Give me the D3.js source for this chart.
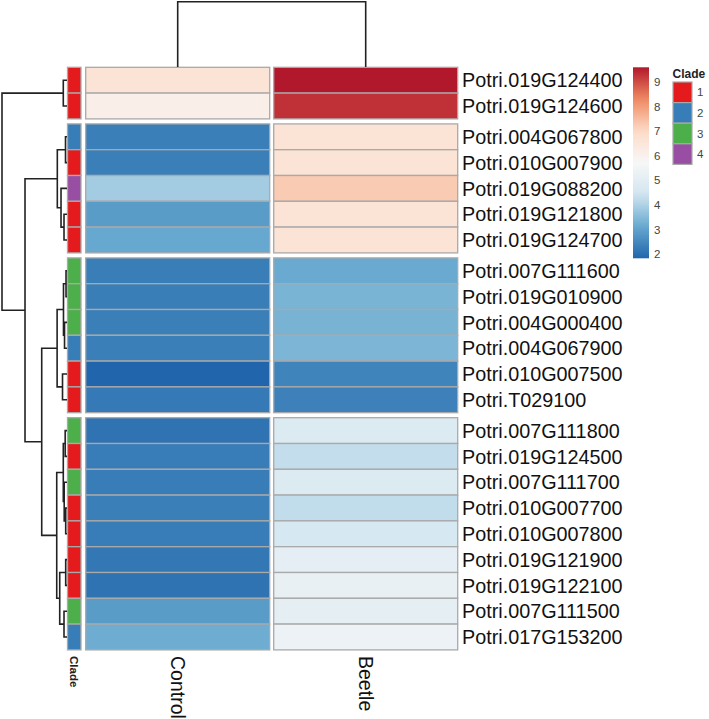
<!DOCTYPE html>
<html>
<head>
<meta charset="utf-8">
<script src="https://cdn.jsdelivr.net/npm/d3@7"></script>
<style>
  body { margin: 0; background: #fff; }
  text { font-family: "Liberation Sans", Arial, sans-serif; }
</style>
</head>
<body>
<svg id="chart" width="709" height="719"></svg>
<script>
// gene rows, top to bottom
const genes = [
  "Potri.019G124400", "Potri.019G124600",
  "Potri.004G067800", "Potri.010G007900", "Potri.019G088200", "Potri.019G121800", "Potri.019G124700",
  "Potri.007G111600", "Potri.019G010900", "Potri.004G000400", "Potri.004G067900", "Potri.010G007500", "Potri.T029100",
  "Potri.007G111800", "Potri.019G124500", "Potri.007G111700", "Potri.010G007700", "Potri.010G007800",
  "Potri.019G121900", "Potri.019G122100", "Potri.007G111500", "Potri.017G153200"
];
const clade = [1, 1, 2, 1, 4, 1, 1, 3, 3, 3, 2, 1, 1, 3, 1, 3, 1, 1, 1, 1, 3, 2];
const control = [6.64, 6.13, 2.3, 2.3, 3.85, 2.87, 3.1, 2.28, 2.28, 2.3, 2.3, 1.82, 2.2,
                 2.08, 2.25, 2.25, 2.3, 2.25, 2.15, 2.08, 2.87, 3.2];
const beetle = [9.61, 9.32, 6.64, 6.64, 7.27, 6.64, 6.64, 3.15, 3.35, 3.33, 3.38, 2.4, 2.35,
                4.8, 4.25, 4.8, 4.22, 4.6, 5.1, 5.2, 5.05, 5.35];
const samples = ["Control", "Beetle"];
const rowGroups = [2, 5, 6, 9];          // cutree groups
const cladeLevels = [1, 2, 3, 4];
const cladeColors = ["#E41A1C", "#377EB8", "#4DAF4A", "#984EA3"];
const legendTicks = [2, 3, 4, 5, 6, 7, 8, 9];
const rdbu = ["#2166AC", "#67A9CF", "#D1E5F0", "#F7F7F7", "#FDDBC7", "#EF8A62", "#B2182B"];

// row dendrogram: [height, left, right], leaves are row indexes
const rowTree = [10,
  [0.57, 0, 1],
  [6.46,
    [1.49, [0.23, 2, 3], [0.92, 4, [0.46, 5, 6]]],
    [3.89,
      [1.52, [0.54, [0.15, 7, 8], [0.38, 9, 10]], [0.69, 11, 12]],
      [1.58,
        [0.57, [0.28, 13, 14], [0.43, 15, [0.2, 16, 17]]],
        [1.12, [0.2, 18, 19], [0.46, 20, 21]]]
    ]
  ]
];
const colTree = [1, 0, 1];

const svg = d3.select("#chart");
const values = samples.map((s, j) => j == 0 ? control : beetle);

const heatTop = 67.3, rowH = 25.8, gapH = 5;
const gapBefore = [];
rowGroups.forEach((n, g) => { for (let k = 0; k < n; k++) gapBefore.push(g); });
const yIdx = d3.scaleLinear().domain([0, 1]).range([heatTop, heatTop + rowH]);
const rowY = i => yIdx(i) + gapBefore[i] * gapH;

const cellW = 184, colGap = 4, x0 = 85.7;
const colX = j => x0 + j * (cellW + colGap);

const all = control.concat(beetle);
const [vmin, vmax] = d3.extent(all);
const color = d3.scaleLinear()
  .domain(d3.range(rdbu.length).map(k => vmin + k * (vmax - vmin) / (rdbu.length - 1)))
  .range(rdbu);

const border = "#A9A9A9";

// heatmap cells
samples.forEach((s, j) => {
  svg.append("g").selectAll("rect")
    .data(values[j])
    .join("rect")
    .attr("x", colX(j))
    .attr("y", (d, i) => rowY(i))
    .attr("width", cellW)
    .attr("height", rowH)
    .attr("fill", d => color(d))
    .attr("stroke", border)
    .attr("stroke-width", 1.3);
});

// clade annotation column
const cladeColor = d3.scaleOrdinal().domain(cladeLevels).range(cladeColors);
svg.append("g").selectAll("rect")
  .data(clade)
  .join("rect")
  .attr("x", 67.5)
  .attr("y", (d, i) => rowY(i))
  .attr("width", 13.5)
  .attr("height", rowH)
  .attr("fill", d => cladeColor(d))
  .attr("stroke", border)
  .attr("stroke-width", 1.3);

// row labels
svg.append("g").selectAll("text")
  .data(genes)
  .join("text")
  .attr("x", 462)
  .attr("y", (d, i) => rowY(i) + rowH / 2)
  .attr("dy", "0.36em")
  .attr("font-size", 19.8)
  .attr("fill", "#111")
  .text(d => d);

// column labels
svg.append("g").selectAll("text")
  .data(samples)
  .join("text")
  .attr("transform", (d, j) => `translate(${colX(j) + cellW / 2},656) rotate(90)`)
  .attr("dy", "0.36em")
  .attr("font-size", 19.5)
  .attr("fill", "#111")
  .text(d => d);

svg.append("text")
  .attr("transform", "translate(74.3,656) rotate(90)")
  .attr("dy", "0.36em")
  .attr("font-size", 11.5)
  .attr("font-weight", "bold")
  .attr("fill", "#222")
  .text("Clade");

// dendrograms
const treeG = svg.append("g").attr("fill", "none").attr("stroke", "#222").attr("stroke-width", 1.6);

const hx = d3.scaleLinear().domain([0, 10]).range([67, 2]);
function drawRow(node) {
  if (typeof node === "number") return { pos: rowY(node) + rowH / 2, h: 0 };
  const a = drawRow(node[1]), b = drawRow(node[2]);
  const x = hx(node[0]);
  treeG.append("path")
    .attr("d", `M${hx(a.h)},${a.pos}H${x}V${b.pos}H${hx(b.h)}`);
  return { pos: (a.pos + b.pos) / 2, h: node[0] };
}
drawRow(rowTree);

const hy = d3.scaleLinear().domain([0, 1]).range([67, 1.7]);
function drawCol(node) {
  if (typeof node === "number") return { pos: colX(node) + cellW / 2, h: 0 };
  const a = drawCol(node[1]), b = drawCol(node[2]);
  const y = hy(node[0]);
  treeG.append("path")
    .attr("d", `M${a.pos},${hy(a.h)}V${y}H${b.pos}V${hy(b.h)}`);
  return { pos: (a.pos + b.pos) / 2, h: node[0] };
}
drawCol(colTree);

// colour legend
const barY = d3.scaleLinear().domain([vmin, vmax]).range([258.3, 67.3]);
const grad = svg.append("defs").append("linearGradient")
  .attr("id", "grad").attr("x1", 0).attr("y1", 1).attr("x2", 0).attr("y2", 0);
grad.selectAll("stop")
  .data(d3.range(0, 1.0001, 0.05))
  .join("stop")
  .attr("offset", d => d)
  .attr("stop-color", d => color(vmin + d * (vmax - vmin)));
svg.append("rect")
  .attr("x", 633).attr("y", barY(vmax))
  .attr("width", 16).attr("height", barY(vmin) - barY(vmax))
  .attr("fill", "url(#grad)");
svg.append("g").selectAll("text")
  .data(legendTicks)
  .join("text")
  .attr("x", 654)
  .attr("y", d => barY(d))
  .attr("dy", "0.36em")
  .attr("font-size", 11.5)
  .attr("fill", "#444")
  .text(d => d);

// clade legend
svg.append("text")
  .attr("x", 672.5).attr("y", 77.5)
  .attr("font-size", 12).attr("font-weight", "bold").attr("fill", "#222")
  .text("Clade");
const leg = svg.append("g").selectAll("g")
  .data(cladeLevels)
  .join("g")
  .attr("transform", (d, i) => `translate(673,${82 + i * 20.6})`);
leg.append("rect")
  .attr("width", 19).attr("height", 20.6)
  .attr("fill", d => cladeColor(d))
  .attr("stroke", border).attr("stroke-width", 1.2);
leg.append("text")
  .attr("x", 24).attr("y", 10.3).attr("dy", "0.36em")
  .attr("font-size", 11.5).attr("fill", "#444")
  .text(d => d);
</script>
</body>
</html>
